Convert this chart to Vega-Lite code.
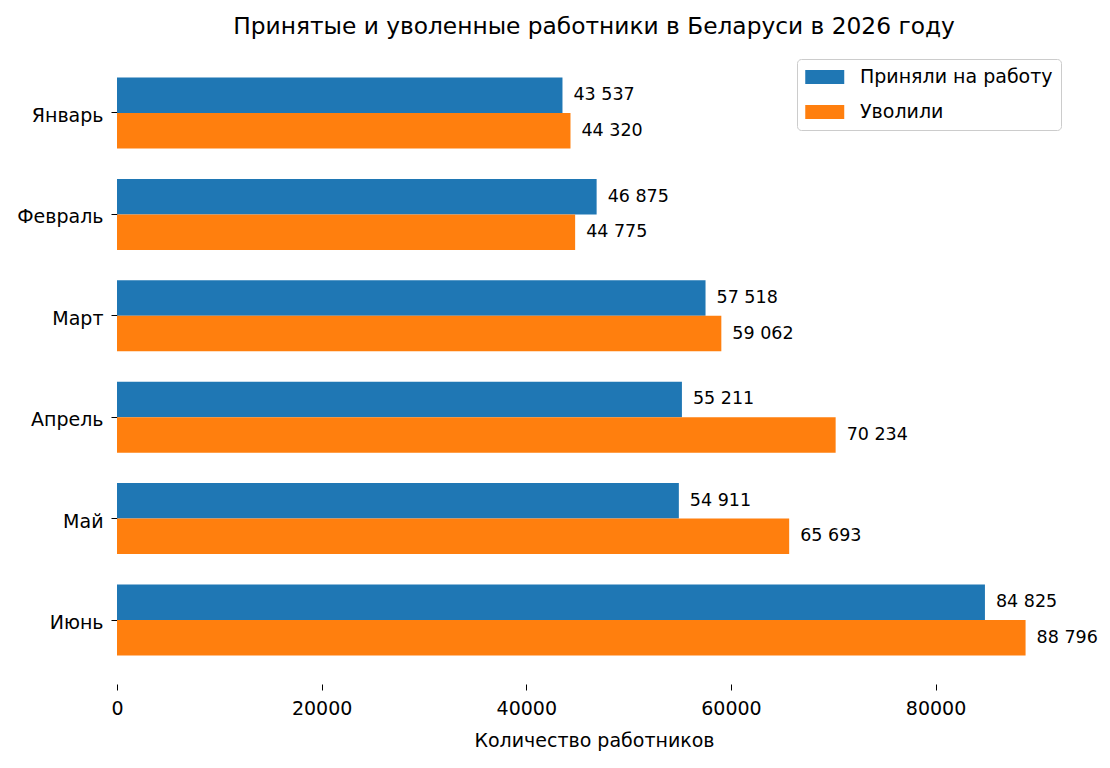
{
  "$schema": "https://vega.github.io/schema/vega-lite/v6.json",
  "width": 954,
  "height": 635,
  "autosize": {"type": "none"},
  "padding": {"left": 117, "top": 49, "right": 39, "bottom": 84},
  "config": {
    "font": "DejaVu Sans",
    "view": {"stroke": null},
    "locale": {"number": {"decimal": ",", "thousands": " ", "grouping": [3], "currency": ["", ""]}}
  },
  "title": {"text": "Принятые и уволенные работники в Беларуси в 2026 году", "fontSize": 23.3, "fontWeight": "normal", "color": "#000000", "offset": 10},
  "data": {"values": [
    {"month": "Январь", "series": "Приняли на работу", "value": 43537},
    {"month": "Январь", "series": "Уволили", "value": 44320},
    {"month": "Февраль", "series": "Приняли на работу", "value": 46875},
    {"month": "Февраль", "series": "Уволили", "value": 44775},
    {"month": "Март", "series": "Приняли на работу", "value": 57518},
    {"month": "Март", "series": "Уволили", "value": 59062},
    {"month": "Апрель", "series": "Приняли на работу", "value": 55211},
    {"month": "Апрель", "series": "Уволили", "value": 70234},
    {"month": "Май", "series": "Приняли на работу", "value": 54911},
    {"month": "Май", "series": "Уволили", "value": 65693},
    {"month": "Июнь", "series": "Приняли на работу", "value": 84825},
    {"month": "Июнь", "series": "Уволили", "value": 88796}
  ]},
  "encoding": {
    "y": {
      "field": "month", "type": "nominal",
      "sort": ["Январь", "Февраль", "Март", "Апрель", "Май", "Июнь"],
      "scale": {"paddingInner": 0.3, "paddingOuter": 0.281},
      "axis": {"title": null, "domain": false, "tickSize": 6, "tickColor": "#000000", "labelFontSize": 19, "labelColor": "#000000", "labelPadding": 8, "labelOffset": 3}
    },
    "yOffset": {
      "field": "series", "type": "nominal",
      "sort": ["Приняли на работу", "Уволили"],
      "scale": {"paddingInner": 0, "paddingOuter": 0}
    },
    "x": {
      "field": "value", "type": "quantitative",
      "scale": {"domain": [0, 93236], "nice": false, "zero": true},
      "axis": {"title": "Количество работников", "titleFontSize": 19, "titleFontWeight": "normal", "titleColor": "#000000", "titlePadding": 13,
               "values": [0, 20000, 40000, 60000, 80000], "format": "d", "grid": false, "domain": false,
               "tickSize": 6, "tickColor": "#000000", "labelFontSize": 19, "labelColor": "#000000", "labelPadding": 9, "labelFlush": false}
    },
    "color": {
      "field": "series", "type": "nominal",
      "scale": {"domain": ["Приняли на работу", "Уволили"], "range": ["#1f77b4", "#ff7f0e"]},
      "legend": {
        "title": null, "orient": "top-right", "offset": 10,
        "fillColor": "#ffffff", "strokeColor": "#cccccc", "cornerRadius": 4, "padding": 8,
        "symbolType": "M-1,-0.72L3,-0.72L3,0.72L-1,0.72Z", "symbolSize": 380, "symbolStrokeWidth": 0, "symbolOpacity": 1,
        "labelFontSize": 19, "labelColor": "#000000", "labelOffset": 35, "labelLimit": 400, "rowPadding": 15
      }
    }
  },
  "layer": [
    {"mark": {"type": "bar"}},
    {"mark": {"type": "text", "align": "left", "baseline": "middle", "dx": 11, "fontSize": 17.5, "color": "#000000"},
     "encoding": {"text": {"field": "value", "type": "quantitative", "format": ",d"}, "color": {"value": "#000000"}}}
  ]
}
